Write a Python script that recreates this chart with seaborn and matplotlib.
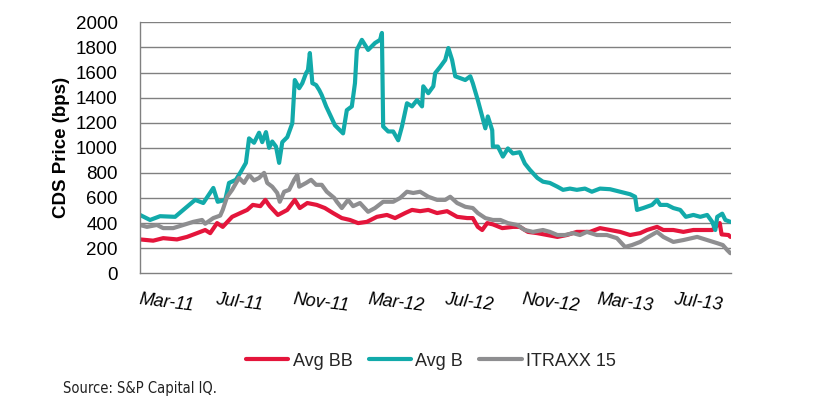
import matplotlib
matplotlib.use("Agg")
import matplotlib.pyplot as plt
from matplotlib import font_manager
from matplotlib.lines import Line2D
import pandas as pd
import seaborn as sns

# ---------------- data ----------------
series_names = ["Avg BB", "Avg B", "ITRAXX 15"]

b_dates = ["2011-03-01", "2011-03-17", "2011-04-02", "2011-04-26", "2011-05-09", "2011-05-28",
           "2011-06-10", "2011-06-26", "2011-07-03", "2011-07-15", "2011-07-21", "2011-08-01",
           "2011-08-09", "2011-08-17", "2011-08-22", "2011-08-30", "2011-09-07", "2011-09-12",
           "2011-09-18", "2011-09-23", "2011-09-28", "2011-10-04", "2011-10-09", "2011-10-14",
           "2011-10-22", "2011-10-30", "2011-11-03", "2011-11-10", "2011-11-15", "2011-11-21",
           "2011-11-24", "2011-11-27", "2011-12-01", "2011-12-07", "2011-12-12", "2011-12-16",
           "2011-12-23", "2011-12-31", "2012-01-06", "2012-01-11", "2012-01-19", "2012-01-25",
           "2012-02-02", "2012-02-07", "2012-02-10", "2012-02-18", "2012-02-28", "2012-03-10",
           "2012-03-18", "2012-03-21", "2012-03-23", "2012-03-31", "2012-04-08", "2012-04-16",
           "2012-04-22", "2012-04-30", "2012-05-08", "2012-05-16", "2012-05-24", "2012-05-26",
           "2012-06-03", "2012-06-11", "2012-06-14", "2012-06-22", "2012-06-30", "2012-07-05",
           "2012-07-11", "2012-07-16", "2012-07-24", "2012-08-01", "2012-08-09", "2012-08-13",
           "2012-08-21", "2012-08-28", "2012-09-02", "2012-09-06", "2012-09-13", "2012-09-14",
           "2012-09-22", "2012-09-30", "2012-10-08", "2012-10-16", "2012-10-27", "2012-11-04",
           "2012-11-12", "2012-11-24", "2012-12-03", "2012-12-14", "2012-12-26", "2013-01-04",
           "2013-01-15", "2013-01-26", "2013-02-08", "2013-02-19", "2013-03-04", "2013-03-20",
           "2013-04-05", "2013-04-21", "2013-04-29", "2013-05-02", "2013-05-12", "2013-05-26",
           "2013-06-03", "2013-06-08", "2013-06-19", "2013-06-29", "2013-07-10", "2013-07-19",
           "2013-07-31", "2013-08-11", "2013-08-22", "2013-08-30", "2013-09-04", "2013-09-07",
           "2013-09-15", "2013-09-20", "2013-09-28"]
b_vals = [465, 425, 455, 450, 505, 585,
          560, 680, 570, 585, 720, 745,
          810, 880, 1075, 1040, 1120, 1045,
          1125, 1000, 1050, 1010, 880, 1045,
          1085, 1195, 1540, 1475, 1515, 1595,
          1620, 1755, 1515, 1500, 1460, 1420,
          1330, 1245, 1180, 1155, 1115, 1300,
          1330, 1515, 1780, 1860, 1780, 1835,
          1860, 1915, 1170, 1130, 1130, 1060,
          1170, 1355, 1330, 1380, 1330, 1490,
          1435, 1490, 1595, 1645, 1700, 1795,
          1700, 1570, 1555, 1540, 1570, 1515,
          1380, 1250, 1155, 1250, 1140, 1010,
          1010, 930, 995, 955, 965, 875,
          825, 760, 730, 720, 690, 665,
          675, 665, 675, 650, 675, 670,
          650, 630, 610, 505, 520, 545,
          585, 545, 545, 520, 505, 450,
          465, 450, 465, 410, 345, 450,
          475, 425, 410]

bb_dates = ["2011-03-01", "2011-03-22", "2011-04-07", "2011-04-29", "2011-05-15", "2011-05-31",
            "2011-06-13", "2011-06-21", "2011-07-02", "2011-07-11", "2011-07-26", "2011-08-08",
            "2011-08-19", "2011-08-28", "2011-09-09", "2011-09-17", "2011-09-24", "2011-10-07",
            "2011-10-22", "2011-11-03", "2011-11-11", "2011-11-23", "2011-12-08", "2011-12-21",
            "2012-01-03", "2012-01-17", "2012-01-30", "2012-02-12", "2012-02-26", "2012-03-13",
            "2012-03-29", "2012-04-11", "2012-04-27", "2012-05-08", "2012-05-21", "2012-06-03",
            "2012-06-17", "2012-07-03", "2012-07-19", "2012-08-04", "2012-08-13", "2012-08-21",
            "2012-08-28", "2012-09-05", "2012-09-14", "2012-09-29", "2012-10-16", "2012-10-27",
            "2012-11-09", "2012-11-24", "2012-12-10", "2012-12-26", "2013-01-10", "2013-01-26",
            "2013-02-16", "2013-03-04", "2013-03-20", "2013-04-05", "2013-04-21", "2013-05-07",
            "2013-05-18", "2013-06-03", "2013-06-13", "2013-06-29", "2013-07-15", "2013-07-31",
            "2013-08-16", "2013-08-30", "2013-09-11", "2013-09-14", "2013-09-25", "2013-09-28"]
bb_vals = [270, 260, 280, 270, 290, 320,
           345, 320, 400, 370, 450, 480,
           505, 545, 535, 585, 535, 465,
           505, 585, 520, 560, 545, 520,
           480, 440, 425, 400, 410, 450,
           465, 440, 480, 505, 495, 505,
           480, 495, 450, 440, 440, 370,
           345, 400, 390, 360, 370, 370,
           330, 320, 305, 290, 305, 330,
           330, 360, 345, 330, 305, 320,
           345, 370, 345, 345, 330, 345,
           345, 345, 400, 310, 305, 290]

it_dates = ["2011-03-01", "2011-03-12", "2011-03-28", "2011-04-07", "2011-04-23", "2011-05-09",
            "2011-05-25", "2011-06-08", "2011-06-13", "2011-06-26", "2011-07-07", "2011-07-11",
            "2011-07-18", "2011-07-26", "2011-08-06", "2011-08-14", "2011-08-22", "2011-08-30",
            "2011-09-07", "2011-09-15", "2011-09-20", "2011-09-28", "2011-10-06", "2011-10-10",
            "2011-10-17", "2011-10-25", "2011-11-02", "2011-11-07", "2011-11-10", "2011-11-21",
            "2011-11-29", "2011-12-07", "2011-12-16", "2011-12-24", "2012-01-05", "2012-01-09",
            "2012-01-17", "2012-01-27", "2012-02-04", "2012-02-15", "2012-02-28", "2012-03-10",
            "2012-03-23", "2012-04-08", "2012-04-19", "2012-04-30", "2012-05-10", "2012-05-21",
            "2012-06-03", "2012-06-17", "2012-06-30", "2012-07-08", "2012-07-19", "2012-08-01",
            "2012-08-13", "2012-08-21", "2012-09-02", "2012-09-14", "2012-09-26", "2012-10-08",
            "2012-10-23", "2012-11-04", "2012-11-17", "2012-12-03", "2012-12-14", "2012-12-26",
            "2013-01-07", "2013-01-20", "2013-01-31", "2013-02-11", "2013-02-27", "2013-03-15",
            "2013-03-31", "2013-04-13", "2013-04-24", "2013-05-07", "2013-05-20", "2013-06-03",
            "2013-06-13", "2013-06-29", "2013-07-15", "2013-08-06", "2013-08-22", "2013-09-07",
            "2013-09-16", "2013-09-23", "2013-09-28"]
it_vals = [385, 370, 385, 360, 360, 385,
           410, 425, 395, 440, 460, 505,
           610, 665, 760, 720, 785, 740,
           760, 800, 720, 690, 640, 570,
           650, 665, 745, 785, 690, 720,
           745, 705, 705, 650, 600, 570,
           520, 585, 535, 560, 490, 520,
           570, 570, 600, 650, 640, 650,
           610, 585, 585, 610, 560, 530,
           520, 480, 440, 425, 425, 400,
           385, 345, 330, 345, 330, 305,
           305, 320, 305, 330, 305, 305,
           280, 210, 225, 250, 290, 330,
           290, 250, 265, 290, 265, 240,
           225, 185, 160]

y_ticks = [0, 200, 400, 600, 800, 1000, 1200, 1400, 1600, 1800, 2000]
x_tick_labels = ["Mar-11", "Jul-11", "Nov-11", "Mar-12", "Jul-12", "Nov-12", "Mar-13", "Jul-13"]
x_tick_dates = ["2011-03-01", "2011-07-01", "2011-11-01", "2012-03-01",
                "2012-07-01", "2012-11-01", "2013-03-01", "2013-07-01"]

# ---------------- frame ----------------
frames = []
for name, d, v in [(series_names[0], bb_dates, bb_vals),
                   (series_names[1], b_dates, b_vals),
                   (series_names[2], it_dates, it_vals)]:
    frames.append(pd.DataFrame({"date": pd.to_datetime(d), "value": v, "series": name}))
df = pd.concat(frames, ignore_index=True)

# ---------------- style ----------------
sns.set_theme(style="white")
plt.rcParams["font.family"] = ["Liberation Sans", "DejaVu Sans"]

colors = {"Avg BB": "#E4153B", "Avg B": "#12AAAA", "ITRAXX 15": "#8E8E90"}
grid_col = "#808080"

fig = plt.figure(figsize=(8.4, 4.03), dpi=100)
fig.patch.set_facecolor("white")
ax = fig.add_axes([140 / 840, 1 - 273.3 / 403, (731 - 140) / 840, (273.3 - 22.3) / 403])
ax.set_facecolor("none")

sns.lineplot(data=df, x="date", y="value", hue="series", palette=colors,
             hue_order=series_names, linewidth=3.0, ax=ax, legend=False, sort=True)

ax.set_ylim(0, 2000)
ax.set_xlim(pd.Timestamp("2011-03-01"), pd.Timestamp("2013-09-29"))
ax.set_yticks(y_ticks)
ax.set_yticklabels([str(t) for t in y_ticks], fontsize=13.5)
ax.set_xticks(pd.to_datetime(x_tick_dates))
ax.set_xticklabels(x_tick_labels, fontsize=13, style="italic", rotation=-7,
                   ha="left", va="top", rotation_mode="anchor")

for t in y_ticks[1:]:
    ax.axhline(t, color=grid_col, lw=1.0, zorder=0)

for s in ["top", "right"]:
    ax.spines[s].set_visible(False)
for s in ["left", "bottom"]:
    ax.spines[s].set_color(grid_col)
    ax.spines[s].set_linewidth(1.0)

ax.tick_params(axis="y", direction="out", length=5, width=1, color=grid_col, pad=11, labelcolor="black")
ax.tick_params(axis="x", direction="out", length=4, width=1, color=grid_col, pad=9, labelcolor="black")
ax.set_xlabel("")
ax.set_ylabel("CDS Price (bps)", fontsize=13.5, fontweight="bold", color="black", labelpad=4)

# legend
handles = [Line2D([0], [0], color=colors[n], lw=3.0) for n in series_names]
fig.legend(handles, series_names, loc="center", bbox_to_anchor=(0.513, 1 - 361 / 403),
           ncol=3, frameon=False, fontsize=13, handlelength=2.35, handletextpad=0.25,
           columnspacing=0.9)

# source
avail = {f.name for f in font_manager.fontManager.ttflist}
if "Liberation Sans Narrow" in avail:
    src_kw = dict(family="Liberation Sans Narrow", fontsize=12)
else:
    src_kw = dict(family="DejaVu Sans", fontstretch="condensed", fontsize=10.5)
fig.text(63 / 840, 1 - 388 / 403, "Source: S&P Capital IQ.", color="#222222",
         va="center", ha="left", **src_kw)

fig.savefig("out.png", dpi=100, facecolor="white")
